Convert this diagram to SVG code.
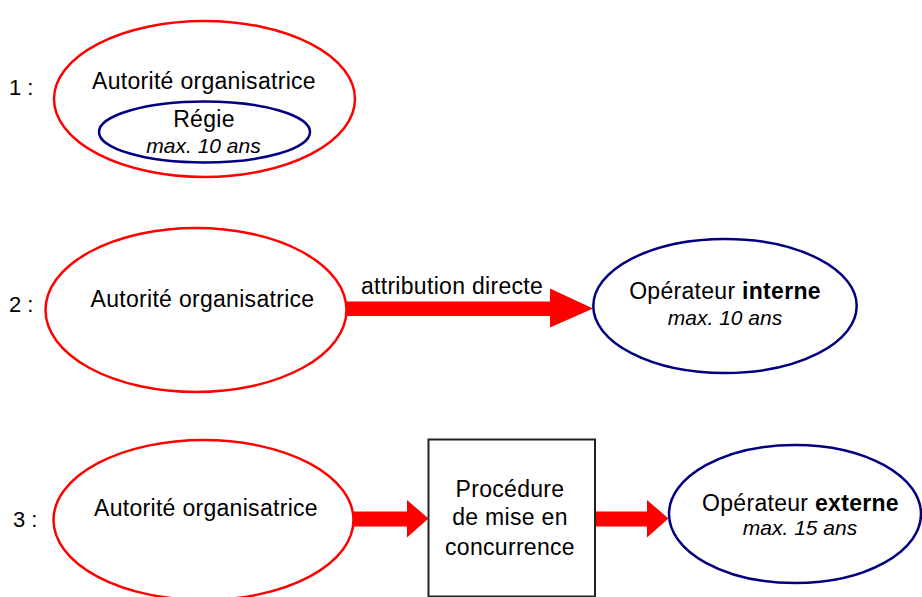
<svg xmlns="http://www.w3.org/2000/svg" width="922" height="597" viewBox="0 0 922 597">
<style>
text{font-family:"Liberation Sans",Arial,sans-serif;fill:#000;text-anchor:middle}
.main{font-size:23px;letter-spacing:0.3px}
.sub{font-size:21px;font-style:italic}
.num{font-size:22px;text-anchor:start}
.b{font-weight:bold}
.red{fill:#fff;stroke:#ff0000;stroke-width:2.5}
.blue{fill:#fff;stroke:#000080;stroke-width:2.5}
.box{fill:#fff;stroke:#222;stroke-width:2}
.arrow{fill:#ff0000;stroke:none}
</style>
<rect width="922" height="597" fill="#fff"/>
<g id="labels">
<text class="num" x="9" y="95">1 :</text>
<text class="num" x="9" y="312">2 :</text>
<text class="num" x="13" y="527">3 :</text>
</g>
<g id="connectors">
<polygon class="arrow" points="346,301.5 550,301.5 550,288.5 593,308.5 550,327.5 550,316 346,316"/>
<text class="main" x="452" y="294">attribution directe</text>
<polygon class="arrow" points="352,511.5 407,511.5 407,500 428.5,518.5 407,537.5 407,526.5 352,526.5"/>
<polygon class="arrow" points="595,511.5 647,511.5 647,500 668.5,518.5 647,537.5 647,526.5 595,526.5"/>
</g>
<g id="ao1">
<ellipse class="red" cx="204.5" cy="99" rx="150.5" ry="78"/>
<text class="main" x="204" y="89">Autorité organisatrice</text>
</g>
<g id="regie">
<ellipse class="blue" cx="204.5" cy="132" rx="105.5" ry="30.5"/>
<text class="main" x="204" y="127">Régie</text>
<text class="sub" x="203.5" y="153">max. 10 ans</text>
</g>
<g id="ao2">
<ellipse class="red" cx="196" cy="310" rx="150.5" ry="82"/>
<text class="main" x="202.5" y="307">Autorité organisatrice</text>
</g>
<g id="operateur-interne">
<ellipse class="blue" cx="725" cy="306" rx="131.7" ry="67"/>
<text class="main" x="725" y="299">Opérateur <tspan class="b">interne</tspan></text>
<text class="sub" x="725" y="325">max. 10 ans</text>
</g>
<g id="ao3">
<ellipse class="red" cx="203.5" cy="520" rx="150" ry="80"/>
<text class="main" x="206" y="516">Autorité organisatrice</text>
</g>
<g id="procedure">
<rect class="box" x="428.5" y="439.5" width="166.5" height="157"/>
<text class="main" x="510" y="497">Procédure</text>
<text class="main" x="510" y="525">de mise en</text>
<text class="main" x="510" y="555">concurrence</text>
</g>
<g id="operateur-externe">
<ellipse class="blue" cx="795" cy="514" rx="126" ry="69"/>
<text class="main" x="800.5" y="511">Opérateur <tspan class="b">externe</tspan></text>
<text class="sub" x="800" y="535">max. 15 ans</text>
</g>
</svg>
